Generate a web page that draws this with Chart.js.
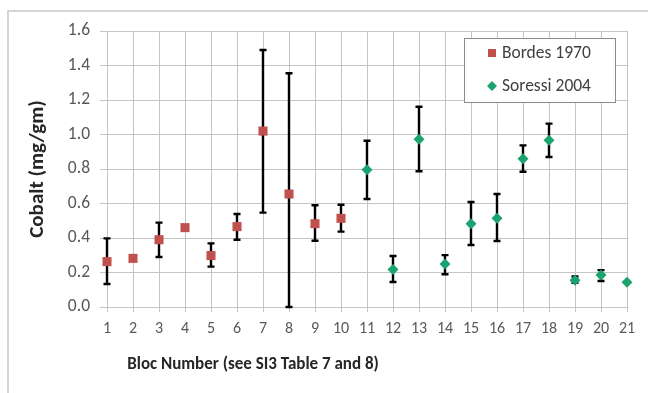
<!DOCTYPE html>
<html><head><meta charset="utf-8">
<script src="https://cdn.jsdelivr.net/npm/chart.js@4/dist/chart.umd.min.js"></script>
<style>html,body{margin:0;padding:0;background:#fff}#wrap{width:648px;height:393px;position:relative}</style>
</head><body><div id="wrap"><canvas id="c"></canvas></div>
<script>
// ---- data ----
const blocsBordes = [1, 2, 3, 4, 5, 6, 7, 8, 9, 10];
const cobaltBordes = [0.263, 0.282, 0.39, 0.46, 0.298, 0.466, 1.02, 0.655, 0.483, 0.514];
const lowBordes = [0.133, 0.27, 0.29, null, 0.234, 0.39, 0.547, 0.0, 0.384, 0.437];
const highBordes = [0.398, 0.295, 0.489, null, 0.369, 0.539, 1.49, 1.355, 0.59, 0.593];

const blocsSoressi = [11, 12, 13, 14, 15, 16, 17, 18, 19, 20, 21];
const cobaltSoressi = [0.796, 0.218, 0.972, 0.249, 0.483, 0.514, 0.86, 0.966, 0.155, 0.186, 0.143];
const lowSoressi = [0.626, 0.145, 0.787, 0.19, 0.359, 0.383, 0.784, 0.87, 0.14, 0.151, null];
const highSoressi = [0.964, 0.296, 1.161, 0.301, 0.609, 0.655, 0.937, 1.063, 0.177, 0.214, null];

const seriesNames = ['Bordes 1970', 'Soressi 2004'];
const xTitle = 'Bloc Number (see SI3 Table 7 and 8)';
const yTitle = 'Cobalt (mg/gm)';

const FONT = 'Carlito, Lato, "Liberation Sans", sans-serif';
const RED = '#c0504d';
const GREEN = '#1aa36f';

const toPts = (xs, ys, lo, hi) => xs.map((x, i) => ({x: x, y: ys[i], lo: lo[i], hi: hi[i]}));

const errorBars = {
  id: 'errorBars',
  beforeDatasetsDraw(chart) {
    const {ctx, scales: {x, y}} = chart;
    ctx.save();
    ctx.strokeStyle = '#000';
    ctx.lineWidth = 2.4;
    chart.data.datasets.forEach(ds => {
      ds.data.forEach(p => {
        if (p.lo == null || p.hi == null) return;
        const px = x.getPixelForValue(p.x);
        const y1 = y.getPixelForValue(p.lo), y2 = y.getPixelForValue(p.hi);
        ctx.beginPath();
        ctx.moveTo(px, y1); ctx.lineTo(px, y2);
        ctx.moveTo(px - 3.5, y1); ctx.lineTo(px + 3.5, y1);
        ctx.moveTo(px - 3.5, y2); ctx.lineTo(px + 3.5, y2);
        ctx.stroke();
      });
    });
    ctx.restore();
  }
};

const decor = {
  id: 'decor',
  beforeDraw(chart) {
    const {ctx} = chart;
    ctx.save();
    ctx.fillStyle = '#fff';
    ctx.fillRect(0, 0, chart.width, chart.height);
    ctx.strokeStyle = '#c9c9c9';
    ctx.lineWidth = 1.5;
    ctx.strokeRect(8, 11, 700, 500);
    ctx.restore();
  },
  afterDraw(chart) {
    const {ctx} = chart;
    ctx.save();
    // x axis title
    ctx.font = 'bold 17px ' + FONT;
    ctx.fillStyle = '#262626';
    ctx.textAlign = 'center';
    ctx.textBaseline = 'middle';
    ctx.fillText(xTitle, 253, 365);
    // legend
    const bx = 464, by = 38, bw = 151, bh = 64;
    ctx.fillStyle = '#fff';
    ctx.fillRect(bx, by, bw, bh);
    ctx.strokeStyle = '#8c8c8c';
    ctx.lineWidth = 1;
    ctx.strokeRect(bx + 0.5, by + 0.5, bw, bh);
    ctx.font = '17.5px ' + FONT;
    ctx.textAlign = 'left';
    chart.data.datasets.forEach((ds, i) => {
      const cy = by + 15 + i * 33;
      ctx.fillStyle = ds.backgroundColor;
      ctx.beginPath();
      if (ds.pointStyle === 'rect') {
        ctx.rect(488, cy - 4, 8, 8);
      } else {
        ctx.moveTo(492, cy - 5); ctx.lineTo(497, cy); ctx.lineTo(492, cy + 5); ctx.lineTo(487, cy);
        ctx.closePath();
      }
      ctx.fill();
      ctx.fillStyle = '#404040';
      ctx.fillText(ds.label, 502, cy + 1);
    });
    ctx.restore();
  }
};

new Chart(document.getElementById('c'), {
  type: 'scatter',
  data: {
    datasets: [
      {label: seriesNames[0], data: toPts(blocsBordes, cobaltBordes, lowBordes, highBordes),
       backgroundColor: RED, borderColor: RED, pointStyle: 'rect', pointRadius: 6.4, borderWidth: 0, showLine: false, clip: false},
      {label: seriesNames[1], data: toPts(blocsSoressi, cobaltSoressi, lowSoressi, highSoressi),
       backgroundColor: GREEN, borderColor: GREEN, pointStyle: 'rectRot', pointRadius: 5.5, borderWidth: 0, showLine: false, clip: false}
    ]
  },
  options: {
    responsive: true, maintainAspectRatio: false, animation: false,
    devicePixelRatio: 1,
    layout: {padding: {left: 0, top: 31, right: 21, bottom: 18}},
    plugins: {legend: {display: false}, tooltip: {enabled: false}},
    scales: {
      x: {
        type: 'linear', min: 1, max: 21,
        afterFit(s) { s.height = 68; },
        ticks: {stepSize: 1, autoSkip: false, maxRotation: 0, color: '#595959', padding: 7,
                font: {family: FONT, size: 16}},
        grid: {color: '#c4c4c4', lineWidth: 1, tickLength: 5},
        border: {color: '#c4c4c4'}
      },
      y: {
        min: 0, max: 1.6,
        afterFit(s) { s.width = 107; },
        ticks: {stepSize: 0.2, color: '#595959', padding: 10, font: {family: FONT, size: 17.5},
                callback: v => Number(v).toFixed(1)},
        grid: {color: '#c4c4c4', lineWidth: 1, tickLength: 7},
        border: {color: '#c4c4c4'},
        title: {display: true, text: yTitle, color: '#262626', padding: {top: 25, bottom: 0},
                font: {family: FONT, size: 21, weight: 'bold'}}
      }
    }
  },
  plugins: [decor, errorBars]
});
</script></body></html>
